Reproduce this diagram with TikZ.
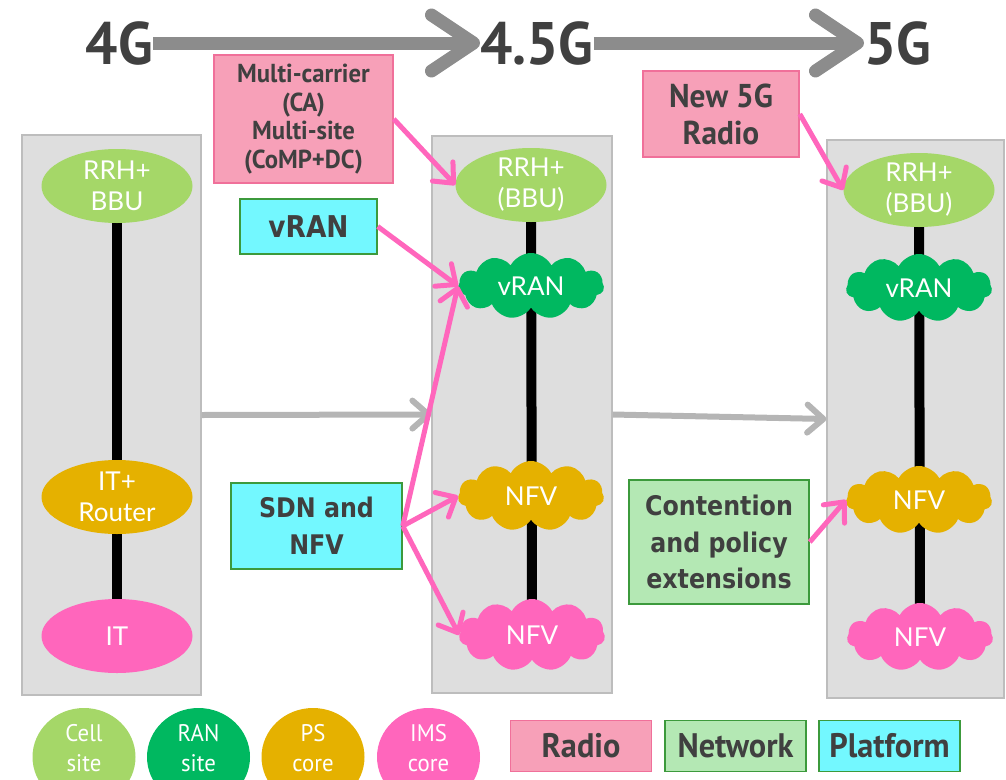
\documentclass[tikz,border=0pt]{standalone}
\usepackage{fontspec}
\setmainfont{Lato}
\newfontfamily\condfont[FakeStretch=0.95]{PT Sans}
\newfontfamily\boxfont[FakeStretch=0.88]{DejaVu Sans}
\usetikzlibrary{shapes.geometric,shapes.symbols,arrows.meta,backgrounds}

\definecolor{cellgreen}{HTML}{A5D768}
\definecolor{rangreen}{HTML}{00B860}
\definecolor{psgold}{HTML}{E5B100}
\definecolor{imspink}{HTML}{FF66BC}
\definecolor{radiofill}{HTML}{F7A0B8}
\definecolor{radioedge}{HTML}{F0709A}
\definecolor{netfill}{HTML}{B4E8B4}
\definecolor{platfill}{HTML}{73F8FF}
\definecolor{greenedge}{HTML}{3C9A3C}
\definecolor{colfill}{HTML}{DEDEDE}
\definecolor{coledge}{HTML}{BDBDBD}
\definecolor{darktext}{HTML}{404040}
\definecolor{titlegray}{HTML}{8C8C8C}
\definecolor{arrowgray}{HTML}{B5B5B5}

\begin{document}
\begin{tikzpicture}[x=1pt,y=-1pt,
  column/.style={draw=coledge, line width=1.2pt, fill=colfill, inner sep=0pt},
  ell/.style={ellipse, inner sep=0pt, minimum width=151pt, minimum height=74pt},
  elltext/.style={text=white, align=center, font=\fontsize{26}{31}\selectfont},
  cloudnode/.style={cloud, cloud puffs=11, cloud puff arc=125, cloud ignores aspect,
    inner sep=0pt, minimum width=146pt, minimum height=66pt, text=white,
    font=\fontsize{26}{31}\selectfont},
  link/.style={draw=black, line width=10pt},
  titletext/.style={inner sep=0pt, text=darktext, font=\condfont\bfseries\fontsize{60}{66}\selectfont},
  bigarrow/.style={draw=titlegray, line width=13pt, -{Straight Barb[length=42pt,width=56pt,round]}},
  grayarrow/.style={draw=arrowgray, line width=6pt, -{Straight Barb[length=16pt,width=28pt,round]}},
  pinkarrow/.style={draw=imspink, line width=5pt, -{Straight Barb[length=16pt,width=28pt,round]}},
  radiobox/.style={draw=radioedge, line width=1.5pt, fill=radiofill, inner sep=0pt, text=darktext, align=center},
  netbox/.style={draw=greenedge, line width=1.5pt, fill=netfill, inner sep=0pt, text=darktext, align=center},
  platbox/.style={draw=greenedge, line width=1.5pt, fill=platfill, inner sep=0pt, text=darktext, align=center},
  legell/.style={ellipse, inner sep=0pt, minimum width=103pt, minimum height=98pt},
  legtext/.style={text=white, align=center, font=\condfont\fontsize{24}{30}\selectfont},
  legbox/.style={minimum width=141pt, minimum height=51pt, font=\condfont\bfseries\fontsize{34}{38}\selectfont}
]
\useasboundingbox (0,0) rectangle (1006,779);

% generation headings and the evolution arrows
\node[titletext, anchor=east] (g4) at (153,43) {4G};
\node[titletext, anchor=west] (g45) at (480,43) {4.5G};
\node[titletext, anchor=west] (g5) at (864,43) {5G};
\draw[bigarrow] (g4.east) -- (g45.west);
\draw[bigarrow] (g45.east) -- (g5.west);

% grey columns
\begin{scope}[on background layer]
  \node[column, minimum width=179pt, minimum height=560pt] (col1) at (111.5,415) {};
  \node[column, minimum width=180pt, minimum height=557pt] (col2) at (522,414.5) {};
  \node[column, minimum width=177pt, minimum height=558pt] (col3) at (915.5,419) {};
\end{scope}

% 4G column
\node[ell, fill=cellgreen, label={[elltext]center:{RRH+\\BBU}}] (rrh1) at (117,186) {};
\node[ell, fill=psgold, label={[elltext]center:{IT+\\Router}}] (rt1) at (117,497) {};
\node[ell, fill=imspink, label={[elltext]center:{IT}}] (it1) at (117,636) {};

% 4.5G column
\node[ell, fill=cellgreen, label={[elltext]center:{RRH+\\(BBU)}}] (rrh2) at (531,185) {};
\node[cloudnode, fill=rangreen] (vran2) at (531,286) {vRAN};
\node[cloudnode, fill=psgold, minimum height=70pt] (nfva2) at (531,496) {NFV};
\node[cloudnode, fill=imspink, minimum height=72pt] (nfvb2) at (532,635) {NFV};

% 5G column
\node[ell, fill=cellgreen, label={[elltext]center:{RRH+\\(BBU)}}] (rrh3) at (919,190) {};
\node[cloudnode, fill=rangreen, minimum height=68pt] (vran3) at (919,288) {vRAN};
\node[cloudnode, fill=psgold, minimum height=68pt] (nfva3) at (919,500) {NFV};
\node[cloudnode, fill=imspink, minimum height=68pt] (nfvb3) at (920,637) {NFV};

% links inside the columns
\begin{scope}[on background layer]
  \draw[link] (rrh1.center) -- (rt1.center);
  \draw[link] (rt1.center) -- (it1.center);
  \draw[link] (rrh2.center) -- (nfvb2.center);
  \draw[link] (rrh3.center) -- (nfvb3.center);
\end{scope}

% column to column arrows
\draw[grayarrow] (col1.east) -- (col2.west);
\draw[grayarrow] (col2.east) -- (col3.west);

% feature boxes
\node[radiobox, minimum width=179pt, minimum height=128pt,
      font=\condfont\bfseries\fontsize{26}{28.5}\selectfont] (ca) at (303.5,119)
      {Multi-carrier\\(CA)\\Multi-site\\(CoMP+DC)};
\node[radiobox, minimum width=156pt, minimum height=86pt,
      font=\condfont\bfseries\fontsize{33}{37}\selectfont] (nr) at (721,114)
      {New 5G\\Radio};
\node[platbox, minimum width=137pt, minimum height=55pt,
      font=\boxfont\bfseries\fontsize{30}{36}\selectfont] (vranbox) at (308.5,226.5) {vRAN};
\node[platbox, minimum width=171pt, minimum height=86pt,
      font=\boxfont\bfseries\fontsize{27}{37}\selectfont] (sdn) at (316.5,526) {SDN and\\NFV};
\node[netbox, minimum width=180pt, minimum height=124pt,
      font=\boxfont\bfseries\fontsize{27}{36.5}\selectfont] (cont) at (719,542)
      {Contention\\and policy\\extensions};

% feature arrows
\draw[pinkarrow] (ca.east) -- (rrh2.west);
\draw[pinkarrow] (vranbox.east) -- (vran2.west);
\draw[pinkarrow] (sdn.east) -- (vran2.west);
\draw[pinkarrow] (sdn.east) -- (nfva2.west);
\draw[pinkarrow] (sdn.east) -- (nfvb2.west);
\draw[pinkarrow] (nr.east) -- (rrh3.west);
\draw[pinkarrow] (cont.east) -- (nfva3.west);

% legend
\node[legell, fill=cellgreen, label={[legtext,yshift=9pt]center:{Cell\\site}}] (lg1) at (84,757) {};
\node[legell, fill=rangreen, label={[legtext,yshift=9pt]center:{RAN\\site}}] (lg2) at (198.5,757) {};
\node[legell, fill=psgold, label={[legtext,yshift=9pt]center:{PS\\core}}] (lg3) at (313,757) {};
\node[legell, fill=imspink, label={[legtext,yshift=9pt]center:{IMS\\core}}] (lg4) at (428.5,757) {};
\node[radiobox, legbox] (lgr) at (581,746) {Radio};
\node[netbox, legbox] (lgn) at (735.5,746) {Network};
\node[platbox, legbox] (lgp) at (889.5,746) {Platform};
\end{tikzpicture}
\end{document}
